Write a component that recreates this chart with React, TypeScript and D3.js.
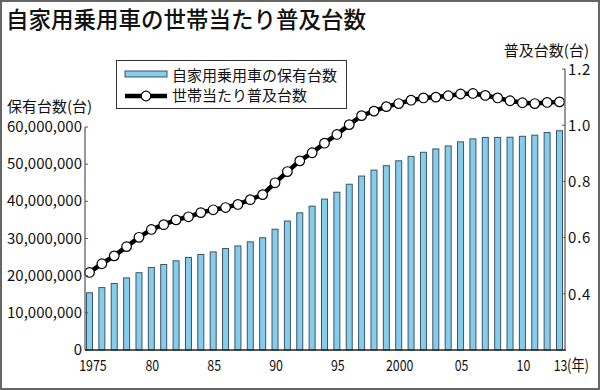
import React from "react";
import * as d3 from "d3";

// years 1975 - 2013
const years = d3.range(1975, 2014);

// 自家用乗用車の保有台数 (台)
const ownedCars = [
  15400000, 16800000, 17900000, 19400000, 20800000, 22200000, 23000000, 24000000,
  24900000, 25700000, 26400000, 27300000, 28000000, 29100000, 30200000, 32500000,
  34700000, 36900000, 38700000, 40600000, 42450000, 44600000, 46800000, 48400000,
  49600000, 50900000, 52100000, 53200000, 54100000, 54900000, 56000000, 56800000,
  57200000, 57200000, 57250000, 57500000, 57800000, 58500000, 59000000,
];

// 世帯当たり普及台数 (台)
const perHousehold = [
  0.476, 0.507, 0.535, 0.568, 0.601, 0.629, 0.646, 0.663, 0.674, 0.689, 0.699,
  0.707, 0.718, 0.735, 0.753, 0.795, 0.835, 0.873, 0.902, 0.936, 0.967, 1.002,
  1.034, 1.05, 1.066, 1.077, 1.089, 1.097, 1.1, 1.105, 1.111, 1.113, 1.106,
  1.097, 1.087, 1.08, 1.077, 1.081, 1.083,
];

const leftTicks = [0, 10000000, 20000000, 30000000, 40000000, 50000000, 60000000];
const rightTicks = [0.4, 0.6, 0.8, 1.0, 1.2];
const yearLabels = [1975, 1980, 1985, 1990, 1995, 2000, 2005, 2010, 2013];

const font = "'Noto Sans CJK JP', 'Noto Sans', sans-serif";

export default function App() {
  const width = 600;
  const height = 390;
  const left = 85;
  const right = 565;
  const bottom = 350;

  const x = d3.scalePoint<number>().domain(years).range([89.5, 559.5]);
  const yLeft = d3.scaleLinear().domain([0, 60000000]).range([bottom, 127]);
  const yRight = d3.scaleLinear().domain([0.2, 1.2]).range([bottom, 69]);
  const fmt = d3.format(",");
  const barW = 6;

  const line = d3
    .line<number>()
    .x((d, i) => x(years[i])!)
    .y((d) => yRight(d));

  const yearText = (y: number) =>
    y === 1975 || y === 2000 ? String(y) : String(y % 100).padStart(2, "0");

  return (
    <svg
      width={width}
      height={height}
      style={{ position: "absolute", left: 0, top: 0, background: "#fff" }}
      fontFamily={font}
    >
      <rect x={1} y={1} width={width - 2} height={height - 2} fill="#fff" stroke="#666" strokeWidth={2} />

      <text x={6} y={28} fontSize={22.5} fontWeight={500} fill="#111">
        自家用乗用車の世帯当たり普及台数
      </text>

      {/* bars */}
      {years.map((yr, i) => (
        <rect
          key={yr}
          x={x(yr)! - barW / 2}
          y={yLeft(ownedCars[i])}
          width={barW}
          height={bottom - yLeft(ownedCars[i])}
          fill="#86cdec"
          stroke="#3b5566"
          strokeWidth={1}
        />
      ))}

      {/* line */}
      <path d={line(perHousehold) || ""} fill="none" stroke="#000" strokeWidth={4.5} />
      {perHousehold.map((v, i) => (
        <circle key={i} cx={x(years[i])} cy={yRight(v)} r={4.8} fill="#fff" stroke="#000" strokeWidth={1.2} />
      ))}

      {/* left axis */}
      <line x1={left} x2={left} y1={yLeft(60000000)} y2={bottom} stroke="#555" strokeWidth={1.2} />
      {leftTicks.map((t) => (
        <g key={t}>
          <line x1={left} x2={left + 3} y1={yLeft(t)} y2={yLeft(t)} stroke="#555" strokeWidth={1} />
          <text x={82} y={yLeft(t)} dy="0.34em" textAnchor="end" fontSize={15} fill="#111">
            {fmt(t)}
          </text>
        </g>
      ))}
      <text x={7} y={112} fontSize={15} fill="#111">
        保有台数(台)
      </text>

      {/* right axis */}
      <line x1={right} x2={right} y1={yRight(1.2)} y2={bottom} stroke="#555" strokeWidth={1.2} />
      {rightTicks.map((t) => (
        <g key={t}>
          <line x1={right - 3} x2={right} y1={yRight(t)} y2={yRight(t)} stroke="#555" strokeWidth={1} />
          <text x={568} y={yRight(t)} dy="0.38em" textAnchor="start" fontSize={15} letterSpacing={0.8} fill="#111">
            {t.toFixed(1)}
          </text>
        </g>
      ))}
      <text x={589} y={56} textAnchor="end" fontSize={15} fill="#111">
        普及台数(台)
      </text>

      {/* bottom axis */}
      <line x1={left} x2={566} y1={bottom} y2={bottom} stroke="#222" strokeWidth={1.5} />
      {yearLabels.map((yr) => (
        <text
          key={yr}
          transform={`translate(${x(yr)! + (yr === 1975 ? 3.5 : 1)},${371}) scale(0.8,1)`}
          textAnchor="middle"
          fontSize={15.5}
          fill="#111"
        >
          {yearText(yr)}
        </text>
      ))}
      <text transform="translate(567,371) scale(0.85,1)" fontSize={15.5} fill="#111">
        (年)
      </text>

      {/* legend */}
      <rect x={116.5} y={60.5} width={230} height={48} fill="#fff" stroke="#333" strokeWidth={1} />
      <rect x={125} y={71} width={42} height={6} fill="#86cdec" stroke="#3b5566" strokeWidth={1} />
      <text x={172} y={76} dy="0.36em" fontSize={15} fill="#111">
        自家用乗用車の保有台数
      </text>
      <line x1={125} x2={167} y1={96} y2={96} stroke="#000" strokeWidth={4.5} />
      <circle cx={146} cy={96} r={4.8} fill="#fff" stroke="#000" strokeWidth={1.2} />
      <text x={172} y={96} dy="0.36em" fontSize={15} fill="#111">
        世帯当たり普及台数
      </text>
    </svg>
  );
}
